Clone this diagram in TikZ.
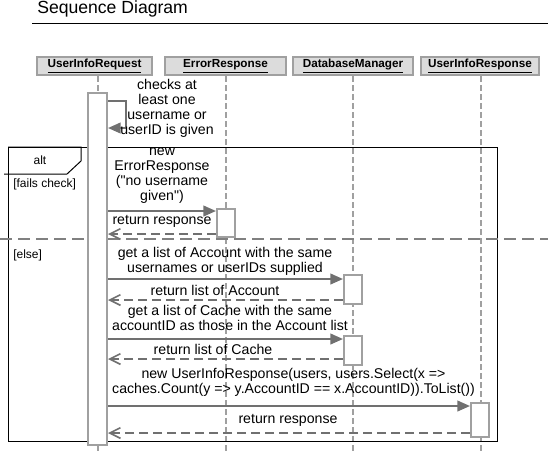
\documentclass[tikz,border=0pt]{standalone}
\usepackage{fontspec}
\setmainfont{Liberation Sans}
\usetikzlibrary{arrows.meta,fit}
\definecolor{boxfill}{HTML}{DCDCDC}
\definecolor{boxline}{HTML}{A0A0A0}
\definecolor{arrowc}{HTML}{707070}
\definecolor{sepc}{HTML}{808080}
\begin{document}
\begin{tikzpicture}[x=0.75pt,y=-0.75pt,
  hdr/.style={draw=boxline, line width=1.5pt, fill=boxfill, inner sep=0pt,
    minimum height=13.5pt, font=\fontsize{8.8}{10}\selectfont\bfseries},
  life/.style={draw=boxline, line width=1.5pt, dash pattern=on 4.5pt off 2.25pt},
  act/.style={draw=boxline, line width=1.5pt, fill=white, inner sep=0pt},
  msg/.style={draw=arrowc, line width=1.5pt, -{Triangle[length=9.5pt,width=8pt]}},
  ret/.style={draw=arrowc, line width=1.5pt, dash pattern=on 7pt off 3.5pt,
    -{Straight Barb[length=8pt,width=8pt,line width=1.2pt]}},
  txt/.style={inner sep=0pt, align=center, font=\fontsize{10.6}{11.25}\selectfont},
  gtxt/.style={inner sep=0pt, anchor=west, font=\fontsize{9}{11}\selectfont},
]
\useasboundingbox (0,0) rectangle (548,451);
% title
\node[inner sep=0pt, anchor=west, font=\fontsize{13.2}{15}\selectfont] (title) at (37,9) {Sequence Diagram};
\coordinate (tl) at (32,23);
\coordinate (tr) at (548,23);
\draw[line width=0.75pt] (tl) -- (tr);
% headers
\node[hdr, minimum width=86.25pt] (h1) at (94.5,66) {\underline{UserInfoRequest}};
\node[hdr, minimum width=90.75pt] (h2) at (225.5,66) {\underline{ErrorResponse}};
\node[hdr, minimum width=90pt] (h3) at (353,66) {\underline{DatabaseManager}};
\node[hdr, minimum width=88.5pt] (h4) at (480,66) {\underline{UserInfoResponse}};
% lifelines
\coordinate (l1) at (98,451);
\coordinate (l2) at (226,451);
\coordinate (l3) at (353,451);
\coordinate (l4) at (481,451);
\draw[life] (h1.south -| l1) -- (l1);
\draw[life] (h2.south -| l2) -- (l2);
\draw[life] (h3.south -| l3) -- (l3);
\draw[life] (h4.south -| l4) -- (l4);
% alt frame
\node[draw, line width=0.75pt, inner sep=0pt, fit={(8,147) (497,441)}] (frame) {};
\draw[line width=0.75pt] (8,147) -- (81,147) -- (81,161) -- (67,174) -- (4,174);
\node[txt, font=\fontsize{9}{11}\selectfont] (alt) at (40,160) {alt};
\node[gtxt] (g1) at (13,184) {[fails check]};
\node[gtxt] (g2) at (13,255) {[else]};
\coordinate (sl) at (0,239);
\coordinate (sr) at (548,239);
\draw[draw=sepc, line width=1.5pt, dash pattern=on 9pt off 4.5pt] (sl) -- (sr);
% activations
\node[act, fit={(88,93) (107,445)}] (a0) {};
\node[act, fit={(217,209) (235,237)}] (e1) {};
\node[act, fit={(344,275) (362,304)}] (d1) {};
\node[act, fit={(344,336) (362,365)}] (d2) {};
\node[act, fit={(471,403) (489,437)}] (u1) {};
% messages
\draw[msg] (a0.east |- 0,101) -- ++(18,0) -- ++(0,27) -- (a0.east |- 0,128);
\node[txt] (t0) at (167,108.5) {checks at\\least one\\username or\\userID is given};
\draw[msg] (a0.east |- 0,211) -- (e1.west |- 0,211);
\node[txt] (t1) at (162,175.5) {new\\ErrorResponse\\(\textquotedbl no username\\given\textquotedbl)};
\draw[ret] (e1.west |- 0,234) -- (a0.east |- 0,234);
\node[txt] (t2) at (162,221) {return response};
\draw[msg] (a0.east |- 0,279) -- (d1.west |- 0,279);
\node[txt] (t3) at (225,261.5) {get a list of Account with the same\\usernames or userIDs supplied};
\draw[ret] (d1.west |- 0,300) -- (a0.east |- 0,300);
\node[txt] (t4) at (215,290) {return list of Account};
\draw[msg] (a0.east |- 0,339) -- (d2.west |- 0,339);
\node[txt] (t5) at (230,317.5) {get a list of Cache with the same\\accountID as those in the Account list};
\draw[ret] (d2.west |- 0,359) -- (a0.east |- 0,359);
\node[txt] (t6) at (213,349) {return list of Cache};
\draw[msg] (a0.east |- 0,406) -- (u1.west |- 0,406);
\node[txt] (t7) at (293.5,382) {new UserInfoResponse(users, users.Select(x =>\\caches.Count(y => y.AccountID == x.AccountID)).ToList())};
\draw[ret] (u1.west |- 0,433) -- (a0.east |- 0,433);
\node[txt] (t8) at (288,420) {return response};
\end{tikzpicture}
\end{document}
